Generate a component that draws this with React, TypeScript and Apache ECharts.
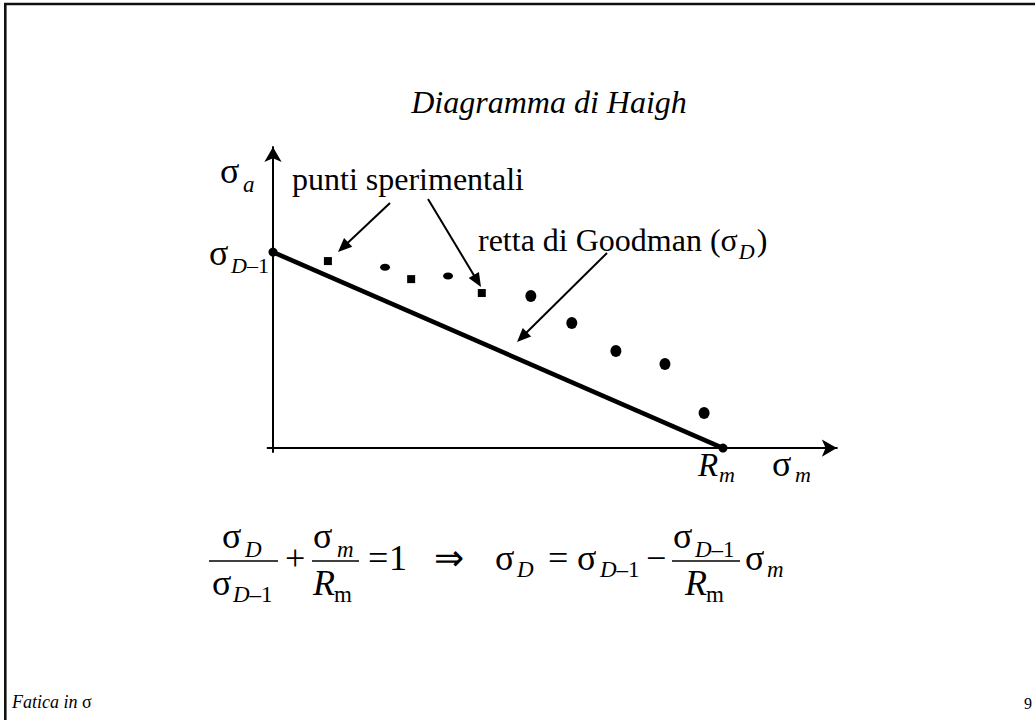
import React, { useEffect, useRef } from "react";
import * as echarts from "echarts";

const SERIF = "'Liberation Serif', 'Times New Roman', Times, serif";

// Goodman line: from (0, σD-1) to (Rm, 0), both normalised to 100
const goodmanX = [0, 100];
const goodmanY = [100, 0];

// experimental points (σm, σa), normalised
const squareX = [12.2, 30.7, 46.4];
const squareY = [95.4, 86.2, 79.1];
const ovalX = [24.9, 38.9];
const ovalY = [92.3, 87.8];
const dotX = [57.3, 66.4, 76.2, 87.1, 95.8];
const dotY = [77.6, 63.8, 49.5, 42.9, 17.9];

const zip = (xs: number[], ys: number[]) => xs.map((x, i) => [x, ys[i]]);

const measureCtx =
  typeof document !== "undefined"
    ? document.createElement("canvas").getContext("2d")
    : null;

function fontOf(size: number, italic = false) {
  return `${italic ? "italic " : ""}${size}px ${SERIF}`;
}

function textWidth(text: string, size: number, italic = false) {
  if (!measureCtx) return text.length * size * 0.5;
  measureCtx.font = fontOf(size, italic);
  return measureCtx.measureText(text).width;
}

// a piece of text placed by its left edge and its baseline
function glyph(text: string, x: number, baseline: number, size: number, italic = false) {
  return {
    type: "text",
    x,
    y: baseline - 0.34 * size,
    silent: true,
    style: {
      text,
      font: fontOf(size, italic),
      fill: "#000",
      align: "left",
      verticalAlign: "middle",
      textAlign: "left",
      textVerticalAlign: "middle",
    },
  };
}

// italic "D" followed by an upright "–1"
function dMinusOne(x: number, baseline: number, size: number) {
  const w = textWidth("D", size, true);
  return [glyph("D", x, baseline, size, true), glyph("–1", x + w, baseline, size)];
}

function hline(x1: number, x2: number, y: number, width = 1.6) {
  return {
    type: "line",
    silent: true,
    shape: { x1, y1: y, x2, y2: y },
    style: { stroke: "#000", lineWidth: width },
  };
}

function arrow(x1: number, y1: number, x2: number, y2: number) {
  const dx = x2 - x1;
  const dy = y2 - y1;
  const len = Math.hypot(dx, dy);
  const ux = dx / len;
  const uy = dy / len;
  const L = 14;
  const H = 6;
  const bx = x2 - ux * L;
  const by = y2 - uy * L;
  return [
    {
      type: "line",
      silent: true,
      shape: { x1, y1, x2: bx + ux * 2, y2: by + uy * 2 },
      style: { stroke: "#000", lineWidth: 2 },
    },
    {
      type: "polygon",
      silent: true,
      shape: {
        points: [
          [x2, y2],
          [bx - uy * H, by + ux * H],
          [bx + uy * H, by - ux * H],
        ],
      },
      style: { fill: "#000" },
    },
  ];
}

const S = 36; // formula body size
const s = 23; // formula subscript size

function buildGraphic() {
  const els: any[] = [];

  // page frame
  els.push({
    type: "line",
    silent: true,
    shape: { x1: 4, y1: 4, x2: 1035, y2: 4 },
    style: { stroke: "#111", lineWidth: 2.6 },
  });
  els.push({
    type: "line",
    silent: true,
    shape: { x1: 5.3, y1: 3, x2: 5.3, y2: 720 },
    style: { stroke: "#111", lineWidth: 2.6 },
  });

  // title
  els.push({
    type: "text",
    x: 549,
    y: 113 - 0.34 * 32,
    silent: true,
    style: {
      text: "Diagramma di Haigh",
      font: fontOf(32, true),
      fill: "#000",
      align: "center",
      verticalAlign: "middle",
      textAlign: "center",
      textVerticalAlign: "middle",
    },
  });

  // annotations
  els.push(glyph("punti sperimentali", 292, 190, 32));
  const gx = 478;
  const gPart = "retta di Goodman (σ";
  const gw = textWidth(gPart, 32);
  els.push(glyph(gPart, gx, 251, 32));
  els.push(glyph("D", gx + gw + 1, 259, 22, true));
  els.push(glyph(")", gx + gw + textWidth("D", 22, true) + 3, 251, 32));

  els.push(...arrow(390, 203, 338, 252));
  els.push(...arrow(428, 199, 481, 287));
  els.push(...arrow(607, 253, 517, 342));

  // axis names
  els.push(glyph("σ", 220, 183, 36));
  els.push(glyph("a", 243, 192, 23, true));
  els.push(glyph("σ", 209, 265, 36));
  els.push(...dMinusOne(231, 273, 22));
  els.push(glyph("R", 698, 476, 33, true));
  els.push(glyph("m", 719, 482, 22, true));
  els.push(glyph("σ", 772, 476, 36));
  els.push(glyph("m", 795, 482, 22, true));

  // formula: σD/σD-1 + σm/Rm = 1  ⇒  σD = σD-1 − (σD-1/Rm) σm
  const B = 570;
  const NUM = 548;
  const DEN = 595;
  // fraction 1
  els.push(glyph("σ", 222, NUM, S));
  els.push(glyph("D", 245, NUM + 9, s, true));
  els.push(hline(209, 278, 561));
  els.push(glyph("σ", 212, DEN, S));
  els.push(...dMinusOne(233, DEN + 7, s));
  els.push(glyph("+", 285, B, S));
  // fraction 2
  els.push(glyph("σ", 313, NUM, S));
  els.push(glyph("m", 337, NUM + 9, s, true));
  els.push(hline(312, 359, 561));
  els.push(glyph("R", 313, DEN, S, true));
  els.push(glyph("m", 334, DEN + 7, s));
  els.push(glyph("=", 368, B, S));
  els.push(glyph("1", 389, B, S));
  els.push(glyph("⇒", 434, B, S));
  // right-hand side
  els.push(glyph("σ", 495, B, S));
  els.push(glyph("D", 517, B + 7, s, true));
  els.push(glyph("=", 548, B, S));
  els.push(glyph("σ", 577, B, S));
  els.push(...dMinusOne(600, B + 7, s));
  els.push(glyph("−", 646, B, S));
  els.push(glyph("σ", 673, NUM, S));
  els.push(...dMinusOne(695, NUM + 9, s));
  els.push(hline(672, 740, 561));
  els.push(glyph("R", 685, DEN, S, true));
  els.push(glyph("m", 706, DEN + 7, s));
  els.push(glyph("σ", 745, B, S));
  els.push(glyph("m", 767, B + 7, s, true));

  // footer
  els.push(glyph("Fatica in ", 12, 708, 18, true));
  els.push(glyph("σ", 12 + textWidth("Fatica in ", 18, true), 708, 18));
  els.push(glyph("9", 1024, 709, 16));

  return els;
}

const axisCommon = {
  type: "value" as const,
  axisLine: {
    show: true,
    onZero: true,
    symbol: ["none", "arrow"],
    symbolSize: [13, 15],
    lineStyle: { color: "#000", width: 2 },
  },
  axisTick: { show: false },
  axisLabel: { show: false },
  splitLine: { show: false },
};

const markStyle = { color: "#000", opacity: 1 };

export default function App() {
  const ref = useRef<HTMLDivElement>(null);

  useEffect(() => {
    if (!ref.current) return;
    const chart = echarts.init(ref.current, null, { renderer: "svg" });
    chart.setOption({
      animation: false,
      backgroundColor: "#fff",
      grid: { left: 267.6, top: 147, width: 569.25, height: 305 },
      xAxis: { ...axisCommon, min: -1.2, max: 125.3 },
      yAxis: { ...axisCommon, min: -2, max: 153.6 },
      series: [
        {
          name: "retta di Goodman",
          type: "line",
          data: zip(goodmanX, goodmanY),
          symbol: "circle",
          symbolSize: 9,
          showSymbol: true,
          itemStyle: markStyle,
          lineStyle: { color: "#000", width: 4.5 },
          silent: true,
          z: 3,
        },
        {
          name: "punti sperimentali (quadrati)",
          type: "scatter",
          data: zip(squareX, squareY),
          symbol: "rect",
          symbolSize: 8,
          itemStyle: markStyle,
          silent: true,
        },
        {
          name: "punti sperimentali (ovali)",
          type: "scatter",
          data: zip(ovalX, ovalY),
          symbol: "path://M0,5A5,5,0,1,1,10,5A5,5,0,1,1,0,5Z",
          symbolSize: [10, 7],
          itemStyle: markStyle,
          silent: true,
        },
        {
          name: "punti sperimentali (cerchi)",
          type: "scatter",
          data: zip(dotX, dotY),
          symbol: "path://M0,5A5,5,0,1,1,10,5A5,5,0,1,1,0,5Z",
          symbolSize: [11, 12],
          itemStyle: markStyle,
          silent: true,
        },
      ],
      graphic: { elements: buildGraphic() },
    });
    return () => chart.dispose();
  }, []);

  return (
    <div
      ref={ref}
      style={{ position: "fixed", left: 0, top: 0, width: 1035, height: 720, background: "#fff" }}
    />
  );
}
